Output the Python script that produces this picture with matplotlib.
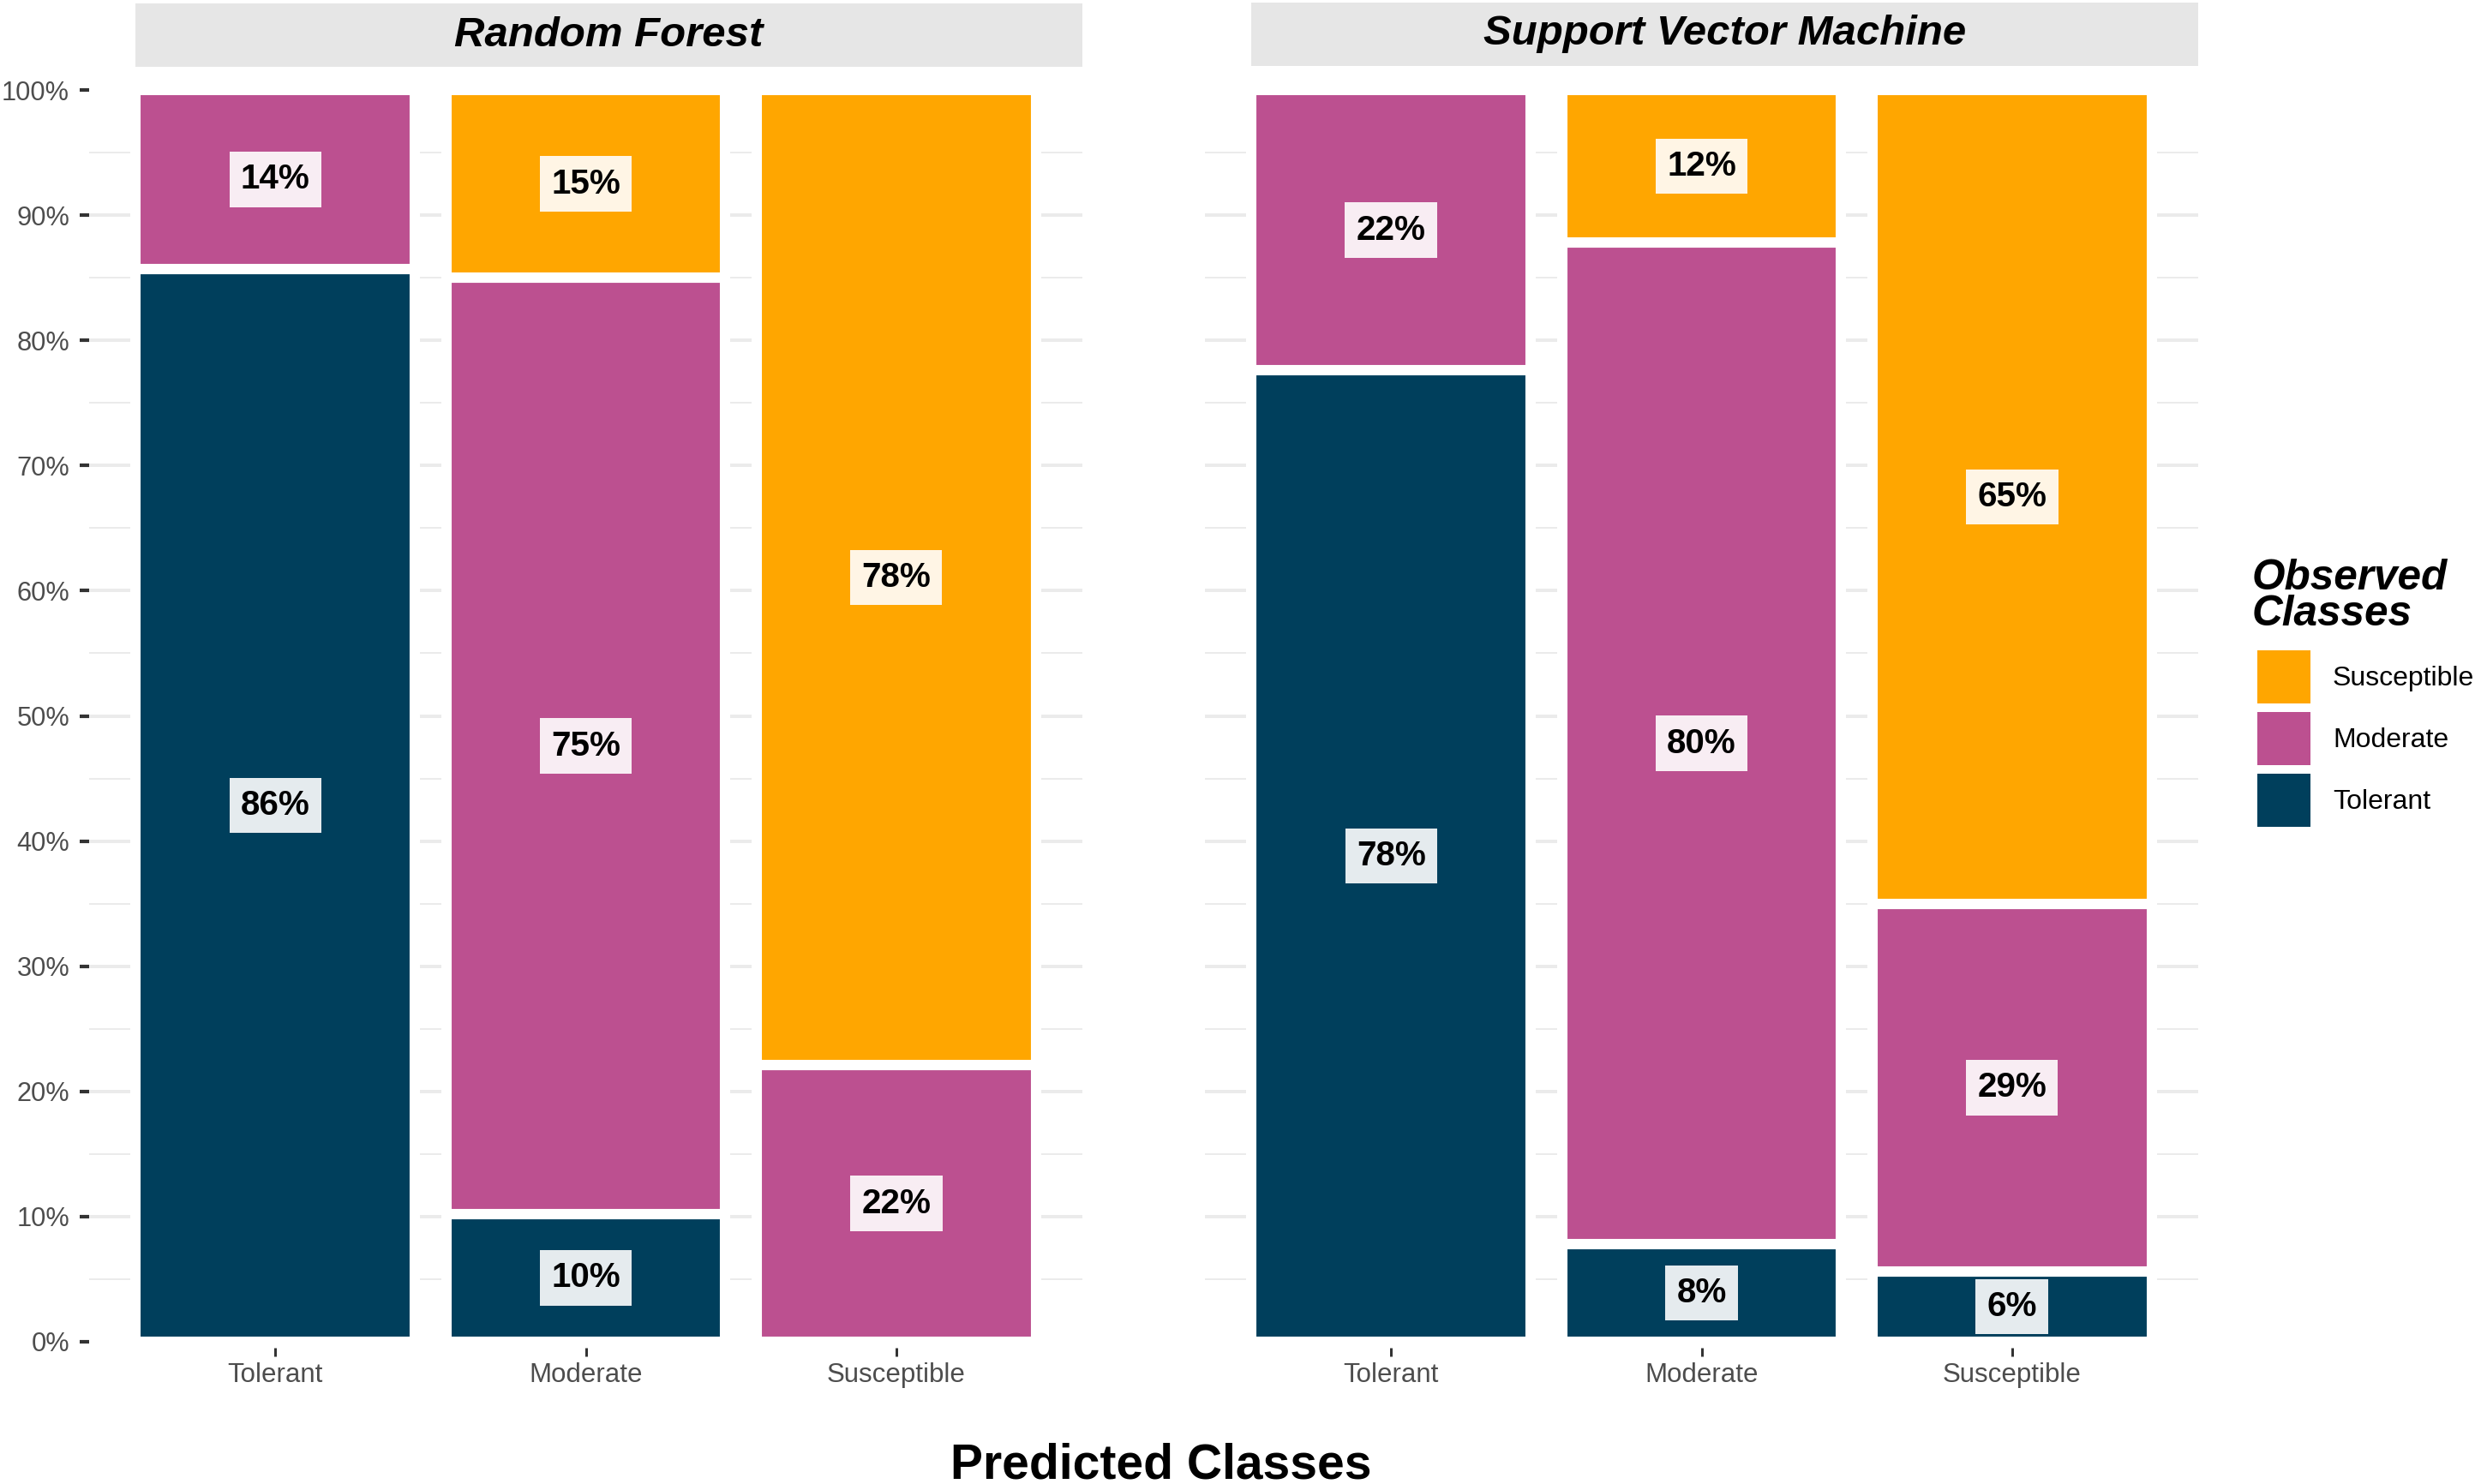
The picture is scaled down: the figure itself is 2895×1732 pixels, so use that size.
import numpy as np
import matplotlib
matplotlib.use("Agg")
import matplotlib.pyplot as plt
from matplotlib.patches import Patch, Rectangle
from matplotlib.legend_handler import HandlerPatch

plt.rcParams['font.family'] = ['Liberation Sans', 'DejaVu Sans']

# ---------------- data ----------------
predicted_classes = ["Tolerant", "Moderate", "Susceptible"]
observed_classes = ["Tolerant", "Moderate", "Susceptible"]
models = ["Random Forest", "Support Vector Machine"]

rf_tolerant = [85.7, 10.2, 0.0]
rf_moderate = [14.3, 74.8, 22.1]
rf_susceptible = [0.0, 15.0, 77.9]

svm_tolerant = [77.6, 7.8, 5.6]
svm_moderate = [22.4, 80.0, 29.4]
svm_susceptible = [0.0, 12.2, 65.0]

y_major = [0, 10, 20, 30, 40, 50, 60, 70, 80, 90, 100]
y_minor = [5, 15, 25, 35, 45, 55, 65, 75, 85, 95]
y_labels = ["0%", "10%", "20%", "30%", "40%", "50%", "60%", "70%", "80%", "90%", "100%"]

colors = {"Tolerant": "#003F5C", "Moderate": "#BC5090", "Susceptible": "#FFA600"}

# ---------------- layout ----------------
W, H = 2895, 1732
DPI = 300
PX = 72.0 / DPI  # points per pixel
fig = plt.figure(figsize=(W / DPI, H / DPI), dpi=DPI)


def rect(l, t, r, b):
    return [l / W, 1 - b / H, (r - l) / W, (b - t) / H]


ax1 = fig.add_axes(rect(104, 78, 1263, 1573))
ax2 = fig.add_axes(rect(1406, 78, 2565, 1573))
s1 = fig.add_axes(rect(158, 4, 1263, 78))
s2 = fig.add_axes(rect(1460, 3, 2565, 77))

panel_data = [
    (ax1, [rf_tolerant, rf_moderate, rf_susceptible]),
    (ax2, [svm_tolerant, svm_moderate, svm_susceptible]),
]

for ax, series in panel_data:
    x = np.arange(len(predicted_classes))
    bottom = np.zeros(len(predicted_classes))
    for cls, vals in zip(observed_classes, series):
        vals = np.asarray(vals, dtype=float)
        mask = vals > 0
        ax.bar(x[mask], vals[mask], bottom=bottom[mask], width=0.9,
               color=colors[cls], edgecolor="white", linewidth=2.9, zorder=2)
        for xi, b, v in zip(x, bottom, vals):
            if v > 0:
                ax.text(xi, b + v / 2, f"{v:.0f}%", ha="center", va="center",
                        fontsize=9.7, fontweight="bold", color="black", zorder=4,
                        bbox=dict(boxstyle="square,pad=0.33", facecolor="white",
                                  alpha=0.9, edgecolor="none"))
        bottom = bottom + vals

    ax.set_xlim(-0.6, 2.6)
    ax.set_ylim(-0.48, 101.85)
    ax.set_xticks(x)
    ax.set_xticklabels(predicted_classes)
    ax.set_yticks(y_major)
    ax.set_yticks(y_minor, minor=True)
    ax.set_yticklabels(y_labels)
    for sp in ax.spines.values():
        sp.set_visible(False)
    ax.set_axisbelow(True)
    ax.yaxis.grid(True, which="major", color="#EBEBEB", linewidth=0.95, zorder=0)
    ax.yaxis.grid(True, which="minor", color="#EBEBEB", linewidth=0.48, zorder=0)
    ax.xaxis.grid(False)
    ticks = ax.yaxis.get_major_ticks()
    ticks[0].gridline.set_visible(False)
    ticks[-1].gridline.set_visible(False)
    ax.tick_params(axis="x", length=2.4, width=0.72, color="#333333",
                   labelsize=7.5, labelcolor="#4D4D4D", pad=1.7)
    ax.tick_params(axis="y", which="major", length=2.6, width=1.0, color="#333333",
                   labelsize=7.4, labelcolor="#4D4D4D", pad=2.9)
    ax.tick_params(axis="y", which="minor", length=0)
    ax.patch.set_alpha(0)

ax2.tick_params(axis="y", which="major", left=False, labelleft=False)

for s, title in zip([s1, s2], models):
    s.set_facecolor("#E6E6E6")
    s.set_xticks([])
    s.set_yticks([])
    for sp in s.spines.values():
        sp.set_visible(False)
    s.text(0.5, 0.5, title, transform=s.transAxes, ha="center", va="center",
           fontsize=11.8, fontweight="bold", fontstyle="italic", color="black")

fig.text(1355 / W, 1 - 1710 / H, "Predicted Classes", ha="center", va="center",
         fontsize=13.7, fontweight="bold", color="black")

# legend with exact square keys
KEY = 62 * PX
INDENT = 6 * PX
leg_fs = 7.7
hh = (KEY / leg_fs - 0.245) / 0.65  # gives a handle box exactly KEY tall


def key_patch(legend, orig_handle, xdescent, ydescent, width, height, fontsize):
    y0 = -ydescent + (height - KEY) / 2
    return Rectangle((-xdescent + INDENT, y0), KEY, KEY)


handles = [Patch(facecolor=colors[c], edgecolor="none") for c in ["Susceptible", "Moderate", "Tolerant"]]
leg = fig.legend(handles, ["Susceptible", "Moderate", "Tolerant"],
                 loc="upper left", bbox_to_anchor=(2628 / W, 1 - 652 / H),
                 frameon=False, title="Observed\nClasses",
                 title_fontproperties={"weight": "bold", "style": "italic", "size": 11.9},
                 fontsize=leg_fs,
                 handlelength=(68 * PX) / leg_fs, handleheight=hh,
                 labelspacing=(10 * PX) / leg_fs, handletextpad=(26 * PX) / leg_fs,
                 borderpad=0, borderaxespad=0, alignment="left",
                 handler_map={Patch: HandlerPatch(patch_func=key_patch)})
leg.get_title().set_linespacing(0.9)
# slightly larger gap between the legend title and the keys
leg._legend_box.sep = 19 * PX

fig.savefig("out.png", dpi=DPI)
